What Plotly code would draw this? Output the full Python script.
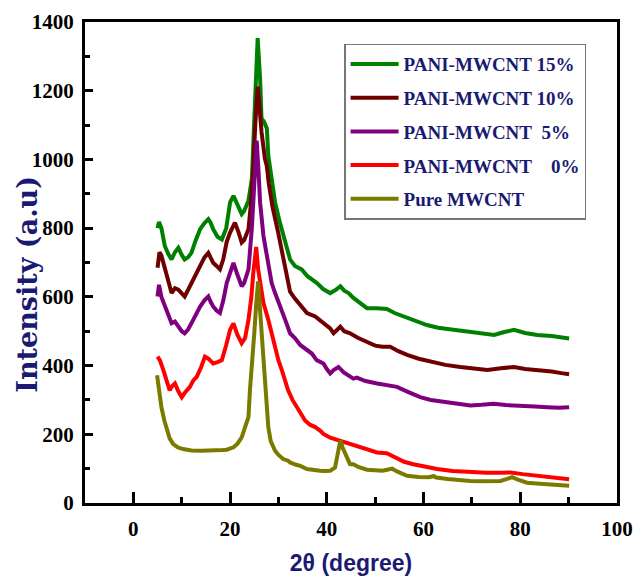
import plotly.graph_objects as go

# ---- data ----
x_15 = [5.0, 5.3, 5.8, 6.5, 7.2, 7.9, 8.6, 9.3, 10.0, 10.6, 11.3, 12.0, 12.9, 13.8, 14.7, 15.5, 16.0, 16.5,
        17.4, 18.3, 19.2, 20.0, 20.7, 21.5, 22.4, 22.9, 23.8, 24.5, 24.9, 25.7, 26.2, 26.5, 27.0, 27.6, 27.9,
        28.6, 29.3, 30.3, 31.2, 32.4, 33.4, 34.8, 36.0, 37.9, 39.3, 40.7, 41.8, 42.8, 43.6, 44.5, 45.5, 46.9,
        48.3, 50.4, 52.4, 54.0, 55.9, 58.0, 60.7, 63.0, 66.2, 69.0, 71.8, 74.6, 76.5, 78.7, 81.0, 83.5, 86.5,
        88.5, 90.1]
y_15 = [800, 818, 800, 748, 725, 709, 730, 743, 722, 709, 715, 728, 765, 797, 815, 826, 815, 797,
        775, 767, 800, 875, 894, 870, 841, 850, 880, 943, 1090, 1353, 1236, 1119, 1110, 1090, 1011,
        940, 875, 816, 770, 709, 690, 680, 660, 641, 622, 611, 620, 631, 618, 611, 597, 582,
        567, 567, 565, 553, 543, 530, 518, 510, 504, 497, 494, 489, 497, 504, 495, 489, 486,
        482, 479]

x_10 = [5.0, 5.4, 5.8, 6.5, 7.2, 7.9, 8.6, 9.3, 10.0, 10.6, 11.3, 12.0, 12.9, 13.8, 14.7, 15.5, 16.0, 16.5,
        17.2, 17.9, 18.6, 19.3, 20.0, 21.0, 21.7, 22.4, 22.9, 23.8, 24.3, 24.8, 25.2, 25.7, 26.1, 26.5, 27.2,
        27.6, 28.0, 28.8, 29.9, 31.2, 32.4, 33.4, 34.8, 35.9, 37.6, 39.3, 40.7, 41.4, 42.8, 43.6, 44.8, 46.5,
        48.3, 50.0, 51.5, 53.1, 54.8, 56.6, 59.0, 61.4, 64.5, 67.6, 70.5, 73.2, 76.0, 78.7, 81.0, 83.5, 86.5,
        88.5, 90.1]
y_10 = [685, 730, 720, 680, 640, 611, 625, 621, 610, 601, 620, 640, 665, 689, 715, 728, 715, 699,
        690, 680, 710, 760, 787, 816, 790, 758, 765, 797, 870, 972, 1100, 1212, 1150, 1080, 1002,
        980, 930, 860, 790, 700, 615, 595, 572, 553, 543, 523, 508, 494, 513, 500, 494, 480,
        470, 458, 455, 455, 442, 431, 420, 411, 402, 396, 390, 387, 392, 396, 390, 387, 383,
        378, 375]

x_5 = [5.0, 5.3, 5.8, 6.5, 7.2, 7.9, 8.6, 9.3, 10.0, 10.6, 11.3, 12.0, 12.9, 13.8, 14.7, 15.5, 16.0, 16.5,
       17.2, 17.9, 18.6, 19.3, 20.0, 20.7, 21.5, 22.4, 22.9, 23.8, 24.5, 25.1, 25.5, 25.9, 26.2, 26.9, 27.9,
       28.6, 29.3, 30.3, 31.4, 32.4, 33.4, 34.5, 35.9, 36.9, 37.9, 39.3, 40.0, 40.7, 41.4, 42.4, 43.5, 45.5,
       46.2, 48.0, 50.4, 52.5, 54.5, 57.0, 59.3, 61.5, 64.2, 67.0, 69.7, 72.0, 74.5, 77.0, 80.0, 83.0, 85.6,
       88.0, 90.1]
y_5 = [601, 635, 600, 572, 545, 523, 528, 515, 500, 494, 505, 523, 550, 572, 590, 601, 585, 572,
       560, 553, 590, 640, 670, 699, 665, 631, 640, 680, 800, 990, 1055, 960, 875, 777, 690,
       640, 611, 570, 533, 494, 480, 460, 445, 435, 416, 406, 390, 377, 387, 396, 380, 362,
       365, 355, 348, 342, 338, 322, 308, 300, 294, 288, 284, 286, 289, 285, 284, 281, 279,
       277, 279]

x_0 = [5.0, 5.5, 6.2, 6.9, 7.5, 8.0, 8.6, 9.3, 10.0, 10.6, 11.7, 12.4, 13.1, 14.0, 14.8, 15.5, 16.5, 17.4,
       18.3, 19.2, 20.0, 20.7, 21.5, 22.4, 23.1, 23.8, 24.4, 24.8, 25.4, 25.8, 26.2, 26.9, 27.9, 28.6, 29.3,
       30.0, 30.7, 31.4, 32.0, 32.9, 33.8, 34.7, 35.5, 36.5, 37.6, 38.6, 39.3, 40.7, 41.4, 42.8, 44.5, 46.2,
       46.9, 48.5, 50.4, 52.4, 54.5, 56.0, 57.9, 60.0, 62.8, 66.0, 69.7, 73.0, 76.0, 78.0, 80.5, 83.5, 86.5,
       88.5, 90.1]
y_0 = [426, 415, 387, 350, 328, 340, 348, 325, 308, 320, 338, 357, 367, 395, 426, 420, 406, 410,
       416, 460, 504, 523, 490, 465, 480, 533, 600, 670, 745, 680, 650, 582, 533, 490, 445,
       415, 387, 355, 328, 300, 279, 258, 240, 228, 221, 211, 201, 190, 187, 182, 172, 167,
       162, 155, 147, 145, 130, 120, 113, 106, 99, 93, 89, 88, 88, 89, 84, 79, 75,
       72, 69]

x_pure = [4.9, 5.3, 5.8, 6.4, 6.9, 7.5, 8.2, 9.2, 10.3, 12.0, 14.0, 15.1, 17.2, 18.5, 19.3, 20.7, 21.5, 22.4,
          23.1, 23.8, 24.1, 24.5, 25.0, 25.4, 25.8, 26.2, 26.6, 26.9, 27.4, 27.9, 28.4, 29.3, 30.0, 31.0, 32.0,
          32.4, 33.5, 34.5, 35.9, 37.6, 38.6, 39.5, 40.7, 41.7, 42.3, 42.8, 43.3, 43.8, 44.8, 45.5, 46.5, 48.3,
          50.0, 51.5, 52.5, 53.5, 54.5, 56.6, 59.0, 61.0, 62.1, 62.6, 65.0, 67.5, 69.7, 72.0, 74.0, 75.9, 77.3,
          78.3, 79.5, 81.4, 84.0, 86.5, 88.5, 90.1]
y_pure = [372, 330, 279, 240, 211, 188, 172, 162, 157, 153, 152, 152, 152, 154, 155, 162, 172, 191,
          221, 250, 328, 390, 494, 580, 645, 560, 470, 445, 330, 221, 180, 152, 140, 128, 123,
          118, 112, 108, 99, 94, 94, 93, 94, 103, 140, 182, 160, 143, 113, 113, 105, 97,
          95, 94, 97, 100, 92, 79, 76, 75, 78, 74, 70, 66, 64, 63, 63, 64, 70,
          75, 68, 59, 56, 54, 52, 50]

names = ["PANI-MWCNT 15%", "PANI-MWCNT 10%", "PANI-MWCNT\u00a0\u00a05%",
         "PANI-MWCNT\u00a0\u00a0\u00a0\u00a00%", "Pure MWCNT"]
colors = ["#008000", "#700000", "#7f007f", "#ff0000", "#7a7a00"]
xs = [x_15, x_10, x_5, x_0, x_pure]
ys = [y_15, y_10, y_5, y_0, y_pure]

x_ticks = [0, 20, 40, 60, 80, 100]
y_ticks = [0, 200, 400, 600, 800, 1000, 1200, 1400]

navy = "#1a1a72"
fig = go.Figure()
for i in range(5):
    fig.add_trace(go.Scatter(x=xs[i], y=ys[i], mode="lines", name=names[i],
                             legendgroup=f"g{i}",
                             line=dict(color=colors[i], width=4)))

tick_font = dict(family="Liberation Serif", size=21, color="black", weight="bold")
fig.update_layout(
    width=633, height=580,
    margin=dict(l=85, r=16, t=22, b=77, autoexpand=False),
    paper_bgcolor="white", plot_bgcolor="white",
    showlegend=True,
    legend=dict(x=0.487, y=0.955, xanchor="left", yanchor="top",
                bordercolor="#777777", borderwidth=1.5, bgcolor="white",
                tracegroupgap=6, itemwidth=48,
                font=dict(family="Liberation Serif", size=19, color=navy, weight="bold")),
    xaxis=dict(range=[-10, 100], tickvals=x_ticks, showgrid=False, zeroline=False,
               automargin=False,
               showline=True, linecolor="black", linewidth=3, mirror=True,
               ticks="inside", ticklen=11, tickwidth=2.5, tickcolor="black",
               minor=dict(dtick=10, tick0=0, ticks="inside", ticklen=6, tickwidth=2.5, tickcolor="black"),
               tickfont=tick_font, ticklabelstandoff=5,
               title=dict(text="2\u03b8 (degree)", standoff=15,
                          font=dict(family="Liberation Sans", size=23, color=navy, weight="bold"))),
    yaxis=dict(range=[0, 1400], tickvals=y_ticks, showgrid=False, zeroline=False,
               automargin=False,
               showline=True, linecolor="black", linewidth=3, mirror=True,
               ticks="inside", ticklen=8, tickwidth=2.5, tickcolor="black",
               minor=dict(dtick=100, tick0=0, ticks="inside", ticklen=5, tickwidth=2.5, tickcolor="black"),
               tickfont=tick_font, ticklabelstandoff=4),
    annotations=[dict(text="Intensity (a.u)", textangle=-90, xref="paper", yref="paper",
                      x=-0.108, y=0.455, xanchor="center", yanchor="middle", showarrow=False,
                      font=dict(family="DejaVu Serif", size=27, color=navy, weight="bold"))],
)

fig.write_html("out.html")
